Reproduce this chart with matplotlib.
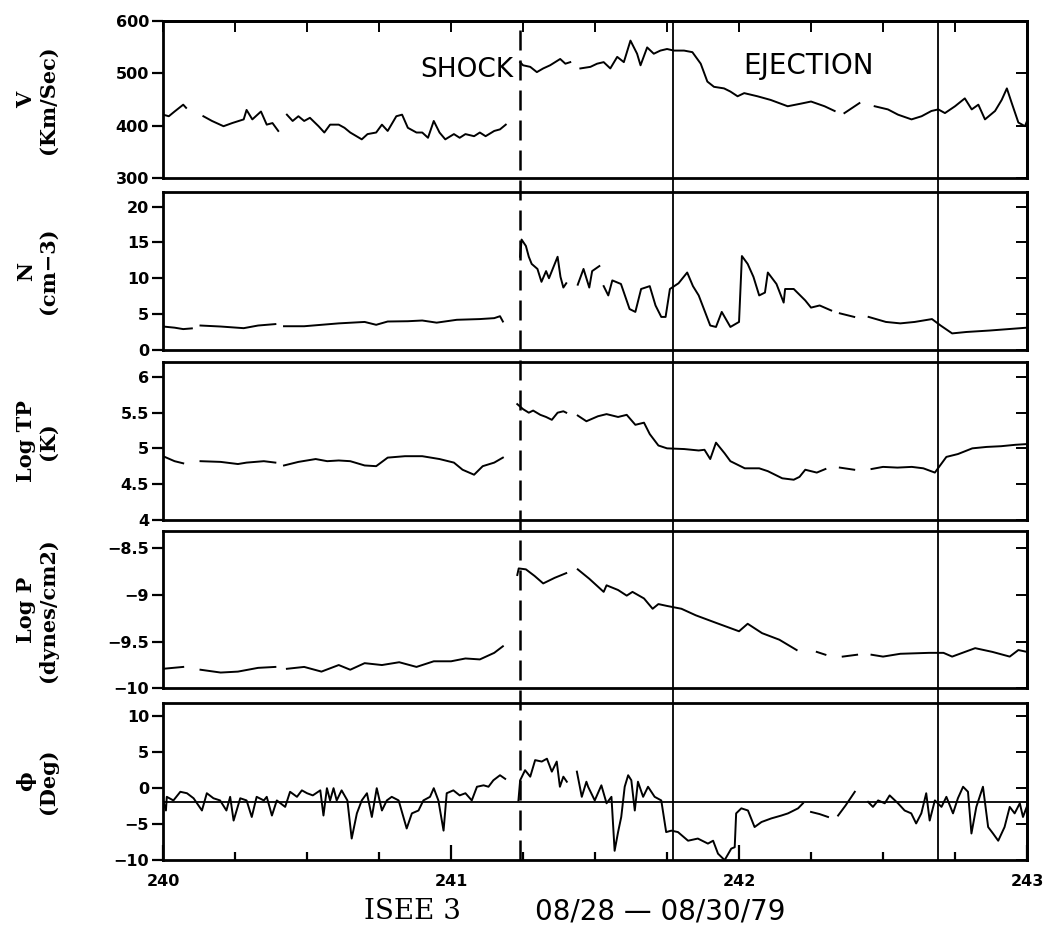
import numpy as np
import matplotlib.pyplot as plt
from matplotlib.lines import Line2D
from matplotlib.transforms import blended_transform_factory

nan = np.nan

# ---- event times (day of year 1979) ----
shock_day = 241.24
ejection_days = [241.77, 242.69]

# ---- V (km/s) ----
v_day = [240.00, 240.02, 240.04, 240.07, 240.08, 240.10, 240.14, 240.17, 240.21, 240.24,
         240.28, 240.29, 240.31, 240.34, 240.36, 240.38, 240.40, 240.41, 240.43, 240.45,
         240.47, 240.49, 240.51, 240.54, 240.56, 240.58, 240.61, 240.63, 240.65, 240.69,
         240.71, 240.74, 240.76, 240.78, 240.81, 240.83, 240.85, 240.88, 240.90, 240.92,
         240.94, 240.96, 240.98, 241.01, 241.03, 241.05, 241.08, 241.10, 241.12, 241.15,
         241.17, 241.19, 241.21,
         241.24, 241.25, 241.275, 241.298, 241.32, 241.344, 241.379, 241.397, 241.414, 241.43,
         241.449, 241.484, 241.507, 241.53, 241.553, 241.577, 241.60, 241.623, 241.646, 241.658,
         241.681, 241.704, 241.727, 241.75, 241.774, 241.809, 241.838, 241.867, 241.89, 241.913,
         241.948, 241.97, 241.995, 242.018, 242.064, 242.11, 242.169, 242.215, 242.25, 242.297,
         242.332, 242.35, 242.366, 242.418, 242.44, 242.471, 242.517, 242.552, 242.599, 242.634,
         242.668, 242.692, 242.715, 242.75, 242.784, 242.808, 242.831, 242.854, 242.889, 242.912,
         242.93, 242.947, 242.97, 242.993, 243.0]
v_kms = [421, 418, 427, 440, 434, nan, 418, 409, 399, 405,
         412, 430, 412, 427, 402, 405, 390, nan, 421, 409,
         418, 409, 415, 399, 387, 402, 402, 396, 387, 374,
         384, 387, 402, 390, 418, 421, 396, 387, 387, 377,
         409, 387, 374, 384, 377, 384, 380, 387, 380, 390,
         393, 402, nan,
         521, 515, 512, 502, 509, 515, 527, 518, 521, nan,
         509, 512, 518, 521, 509, 531, 521, 562, 537, 515,
         549, 537, 543, 546, 543, 543, 540, 518, 484, 474,
         471, 465, 456, 462, 456, 449, 437, 442, 446, 437,
         428, nan, 424, 443, nan, 437, 431, 421, 412, 418,
         428, 431, 424, 437, 452, 431, 440, 412, 428, 449,
         471, 443, 406, 399, 409]

# ---- N (cm-3) ----
n_day = [240.00, 240.04, 240.07, 240.10, 240.115, 240.13, 240.20, 240.28, 240.33, 240.39,
         240.405, 240.42, 240.49, 240.55, 240.61, 240.70, 240.74, 240.78, 240.85, 240.90,
         240.95, 241.02, 241.10, 241.15, 241.17, 241.18, 241.21,
         241.24, 241.245, 241.26, 241.27, 241.28, 241.30, 241.314, 241.33, 241.34, 241.37,
         241.38, 241.39, 241.40, 241.42, 241.44, 241.46, 241.48, 241.49, 241.515, 241.52,
         241.53, 241.546, 241.56, 241.59, 241.62, 241.64, 241.66, 241.69, 241.71, 241.73,
         241.745, 241.76, 241.79, 241.82, 241.84, 241.86, 241.90, 241.92, 241.94, 241.97,
         242.00, 242.01, 242.03, 242.05, 242.07, 242.09, 242.10, 242.13, 242.155, 242.16,
         242.19, 242.23, 242.25, 242.28, 242.32, 242.335, 242.35, 242.40, 242.425, 242.45,
         242.51, 242.56, 242.61, 242.67, 242.70, 242.74, 242.79, 242.87, 243.00]
n_cm3 = [3.26, 3.1, 2.9, 3.0, nan, 3.4, 3.26, 3.03, 3.4, 3.6,
         nan, 3.3, 3.3, 3.5, 3.7, 3.9, 3.5, 3.96, 4.0, 4.1,
         3.8, 4.2, 4.3, 4.43, 4.7, 3.96, nan,
         13.0, 15.4, 14.5, 13.0, 12.0, 11.3, 9.5, 11.0, 10.0, 13.0,
         10.2, 8.7, 9.3, nan, 9.1, 11.3, 8.7, 11.0, 11.7, nan,
         8.9, 7.6, 9.7, 9.2, 5.7, 5.3, 8.5, 8.9, 6.2, 4.6,
         4.6, 8.5, 9.3, 10.8, 8.9, 7.6, 3.4, 3.2, 5.3, 3.2,
         3.9, 13.1, 12.0, 10.2, 7.6, 8.0, 10.8, 9.2, 6.6, 8.5,
         8.5, 6.9, 5.9, 6.2, 5.5, nan, 5.1, 4.6, nan, 4.6,
         3.9, 3.7, 3.9, 4.3, 3.4, 2.3, 2.5, 2.7, 3.1]

# ---- Log TP (K) ----
t_day = [240.00, 240.04, 240.07, 240.10, 240.13, 240.20, 240.26, 240.29, 240.35, 240.39,
         240.405, 240.42, 240.47, 240.53, 240.57, 240.61, 240.65, 240.70, 240.74, 240.78,
         240.84, 240.90, 240.96, 241.01, 241.04, 241.08, 241.11, 241.15, 241.18, 241.21,
         241.23, 241.25, 241.27, 241.285, 241.31, 241.33, 241.35, 241.37, 241.39, 241.40,
         241.42, 241.44, 241.47, 241.51, 241.54, 241.58, 241.61, 241.64, 241.67, 241.69,
         241.72, 241.75, 241.81, 241.86, 241.88, 241.90, 241.92, 241.95, 241.97, 242.02,
         242.07, 242.10, 242.15, 242.19, 242.21, 242.23, 242.27, 242.30, 242.325, 242.35,
         242.40, 242.43, 242.46, 242.50, 242.55, 242.60, 242.64, 242.68, 242.72, 242.76,
         242.81, 242.86, 242.91, 242.96, 243.00]
t_log = [4.89, 4.82, 4.79, nan, 4.82, 4.81, 4.78, 4.80, 4.82, 4.80,
         nan, 4.76, 4.81, 4.85, 4.82, 4.83, 4.82, 4.76, 4.75, 4.87,
         4.89, 4.89, 4.85, 4.80, 4.70, 4.63, 4.75, 4.80, 4.87, nan,
         5.62, 5.55, 5.50, 5.53, 5.47, 5.44, 5.40, 5.50, 5.52, 5.50,
         nan, 5.46, 5.38, 5.45, 5.48, 5.44, 5.47, 5.33, 5.36, 5.20,
         5.04, 5.00, 4.99, 4.97, 4.98, 4.85, 5.08, 4.93, 4.82, 4.72,
         4.72, 4.68, 4.58, 4.56, 4.60, 4.70, 4.66, 4.71, nan, 4.73,
         4.70, nan, 4.71, 4.74, 4.73, 4.74, 4.72, 4.66, 4.88, 4.92,
         5.00, 5.02, 5.03, 5.05, 5.06]

# ---- Log P (dynes/cm2) ----
p_day = [240.00, 240.07, 240.10, 240.13, 240.20, 240.26, 240.33, 240.39, 240.41, 240.43,
         240.49, 240.55, 240.61, 240.65, 240.70, 240.76, 240.82, 240.88, 240.94, 241.00,
         241.05, 241.10, 241.15, 241.18, 241.21,
         241.23, 241.235, 241.26, 241.29, 241.32, 241.36, 241.40, 241.42, 241.44, 241.48,
         241.53, 241.54, 241.58, 241.61, 241.63, 241.67, 241.70, 241.72, 241.75, 241.80,
         241.85, 241.92, 242.00, 242.03, 242.08, 242.14, 242.20, 242.23, 242.27, 242.30,
         242.33, 242.36, 242.41, 242.43, 242.46, 242.50, 242.56, 242.66, 242.71, 242.74,
         242.82, 242.88, 242.94, 242.97, 243.00]
p_log = [-9.79, -9.77, nan, -9.80, -9.83, -9.82, -9.78, -9.77, nan, -9.79,
         -9.77, -9.82, -9.75, -9.80, -9.73, -9.75, -9.72, -9.77, -9.71, -9.71,
         -9.68, -9.69, -9.62, -9.55, nan,
         -8.79, -8.72, -8.73, -8.80, -8.88, -8.82, -8.77, nan, -8.73, -8.83,
         -8.97, -8.90, -8.95, -9.01, -8.97, -9.04, -9.15, -9.10, -9.12, -9.15,
         -9.22, -9.30, -9.39, -9.31, -9.41, -9.48, -9.59, nan, -9.61, -9.64,
         nan, -9.66, -9.64, nan, -9.64, -9.66, -9.63, -9.62, -9.62, -9.66,
         -9.57, -9.61, -9.66, -9.59, -9.61]

# ---- Phi (deg) ----
phi_day = [240.00, 240.01, 240.013, 240.036, 240.06, 240.083, 240.106, 240.135, 240.152, 240.175,
           240.198, 240.22, 240.233, 240.245, 240.268, 240.29, 240.308, 240.325, 240.35, 240.36,
           240.378, 240.395, 240.424, 240.441, 240.465, 240.482, 240.50, 240.52, 240.546, 240.557,
           240.569, 240.58, 240.592, 240.603, 240.62, 240.64, 240.655, 240.673, 240.69, 240.708,
           240.725, 240.742, 240.76, 240.777, 240.794, 240.818, 240.846, 240.864, 240.887, 240.904,
           240.927, 240.94, 240.956, 240.974, 240.985, 241.008, 241.03, 241.05, 241.072, 241.09,
           241.113, 241.13, 241.147, 241.17, 241.188, 241.21,
           241.234, 241.24, 241.257, 241.275, 241.292, 241.315, 241.333, 241.35, 241.367, 241.378,
           241.39, 241.402, 241.42, 241.437, 241.454, 241.47, 241.476, 241.499, 241.522, 241.54,
           241.557, 241.568, 241.58, 241.591, 241.603, 241.615, 241.626, 241.638, 241.649, 241.667,
           241.684, 241.707, 241.73, 241.747, 241.765, 241.788, 241.823, 241.857, 241.892, 241.91,
           241.927, 241.95, 241.973, 241.985, 241.99, 242.008, 242.031, 242.054, 242.078, 242.112,
           242.147, 242.17, 242.205, 242.222, 242.237, 242.25, 242.28, 242.309, 242.325, 242.344,
           242.37, 242.402, 242.425, 242.448, 242.465, 242.483, 242.506, 242.523, 242.552, 242.575,
           242.598, 242.615, 242.633, 242.65, 242.662, 242.68, 242.703, 242.72, 242.743, 242.76,
           242.778, 242.795, 242.807, 242.824, 242.847, 242.865, 242.882, 242.90, 242.922, 242.94,
           242.957, 242.975, 242.986, 243.00]
phi_deg = [-1.7, -3.1, -1.2, -1.7, -0.5, -0.7, -1.4, -3.1, -0.7, -1.4,
           -1.7, -3.1, -1.2, -4.5, -1.4, -1.7, -4.0, -1.2, -1.7, -1.2,
           -3.8, -1.7, -2.6, -0.5, -1.2, -0.3, -0.7, -1.0, -0.3, -3.8,
           0.0, -1.7, 0.0, -1.7, -0.3, -1.7, -7.0, -3.5, -1.7, -0.7,
           -4.0, 0.0, -3.1, -1.7, -1.2, -1.7, -5.6, -3.5, -3.1, -1.7,
           -1.2, 0.0, -1.7, -5.9, -0.7, -0.3, -1.0, -0.7, -1.7, 0.2,
           0.4, 0.2, 1.1, 1.8, 1.3, nan,
           -1.7, 1.1, 2.5, 1.6, 3.9, 3.7, 4.1, 2.3, 3.7, 0.2,
           1.6, 0.9, nan, 2.3, -1.2, 0.9, 0.2, -1.7, 0.4, -2.1,
           -1.2, -8.7, -6.1, -4.0, 0.2, 1.8, 1.1, -3.1, 0.9, -1.2,
           0.2, -1.2, -1.7, -6.1, -5.9, -6.1, -7.3, -7.0, -7.7, -7.3,
           -9.1, -10.0, -8.4, -8.2, -3.5, -2.8, -3.1, -5.4, -4.7, -4.2,
           -3.8, -3.5, -2.8, -2.1, nan, -3.3, -3.6, -4.0, nan, -3.8,
           -2.4, -0.5, nan, -1.9, -2.6, -1.7, -2.1, -1.0, -2.1, -3.1,
           -3.5, -4.9, -3.5, -0.7, -4.5, -1.7, -2.6, -1.2, -3.5, -1.4,
           0.2, -0.5, -6.3, -2.6, 0.2, -5.4, -6.3, -7.3, -5.4, -2.6,
           -3.5, -2.1, -4.0, -2.5]
phi_ref = -1.9

# ---- axis settings ----
ylabels = ["V\n(Km/Sec)", "N\n(cm\u22123)", "Log TP\n(K)", "Log P\n(dynes/cm2)", "\u03d5\n(Deg)"]
ylims = [(300, 600), (0, 22), (4, 6.21), (-10, -8.32), (-10, 11.9)]
yticks = [[300, 400, 500, 600], [0, 5, 10, 15, 20], [4, 4.5, 5, 5.5, 6],
          [-10, -9.5, -9, -8.5], [-10, -5, 0, 5, 10]]
ytick_labels = [["300", "400", "500", "600"], ["0", "5", "10", "15", "20"],
                ["4", "4.5", "5", "5.5", "6"], ["\u221210", "\u22129.5", "\u22129", "\u22128.5"],
                ["\u221210", "\u22125", "0", "5", "10"]]
day_ticks = [240, 241, 242, 243]
quarter_ticks = [240.25, 240.5, 240.75, 241.25, 241.5, 241.75, 242.25, 242.5, 242.75]

series = [(v_day, v_kms), (n_day, n_cm3), (t_day, t_log), (p_day, p_log), (phi_day, phi_deg)]

fig = plt.figure(figsize=(10.54, 9.38), dpi=100)
left, width, height = 0.1547, 0.8197, 0.168
bottoms = [0.810, 0.627, 0.446, 0.266, 0.083]

axes = []
for i, (x, y) in enumerate(series):
    ax = fig.add_axes([left, bottoms[i], width, height])
    ax.plot(x, y, color="black", lw=1.4)
    ax.set_xlim(240, 243)
    ax.set_ylim(*ylims[i])
    ax.set_yticks(yticks[i])
    ax.set_yticklabels(ytick_labels[i], fontsize=11.5, fontweight="bold")
    ax.tick_params(axis="y", direction="out", length=8, width=1.6, pad=2)
    ax.set_xticks([])
    for sp in ax.spines.values():
        sp.set_linewidth(2.0)
    ax.set_ylabel(ylabels[i], family="DejaVu Serif", fontsize=15, fontweight="bold",
                  linespacing=1.1)
    ax.yaxis.set_label_coords(-0.122, 0.5)
    # inward ticks on the right side
    sec = ax.secondary_yaxis("right")
    sec.set_yticks(yticks[i])
    sec.tick_params(direction="in", length=8, width=1.4, labelright=False)
    sec.spines["right"].set_linewidth(2.0)
    axes.append(ax)

# top ticks on first panel
top = axes[0].secondary_xaxis("top")
top.set_xticks(day_ticks + quarter_ticks)
top.tick_params(direction="in", length=8, width=1.4, labeltop=False)
top.spines["top"].set_linewidth(2.0)

# bottom axis of last panel
axb = axes[-1]
axb.set_xticks(day_ticks)
axb.set_xticklabels([str(d) for d in day_ticks], fontsize=11.5, fontweight="bold")
axb.set_xticks(quarter_ticks, minor=True)
axb.tick_params(axis="x", which="major", direction="in", length=11, width=1.6, pad=10)
axb.tick_params(axis="x", which="minor", direction="in", length=6, width=1.6)
axb.axhline(phi_ref, color="black", lw=1.3)

# event lines through all panels
trans = blended_transform_factory(axes[0].transData, fig.transFigure)
y0, y1 = bottoms[-1], bottoms[0] + height
fig.add_artist(Line2D([shock_day, shock_day], [y0, y1], transform=trans,
                      color="black", lw=1.8, linestyle=(0, (8, 4))))
for d in ejection_days:
    fig.add_artist(Line2D([d, d], [y0, y1], transform=trans, color="black", lw=1.3))

narrow = ["DejaVu Sans Condensed", "Liberation Sans Narrow", "DejaVu Sans"]
axes[0].text(241.215, 506, "SHOCK", ha="right", va="center", fontsize=19, family=narrow)
axes[0].text(242.24, 514, "EJECTION", ha="center", va="center", fontsize=20, family=narrow)

fig.text(0.391, 0.028, "ISEE 3", family="DejaVu Serif", fontsize=20, ha="center", va="center")
fig.text(0.626, 0.028, "08/28 \u2014 08/30/79", family="DejaVu Sans", fontsize=20,
         ha="center", va="center")

fig.savefig("out.png", dpi=100, facecolor="white")
